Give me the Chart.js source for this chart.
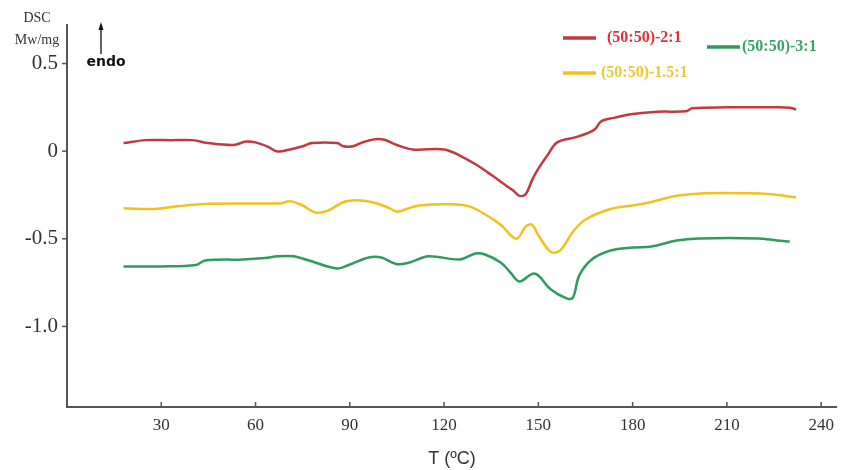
<!DOCTYPE html>
<html>
<head>
<meta charset="utf-8">
<script src="https://cdn.jsdelivr.net/npm/chart.js@4/dist/chart.umd.min.js"></script>
<style>
  html, body { margin: 0; padding: 0; background: #fff; }
  #wrap { width: 842px; height: 470px; position: relative; }
</style>
</head>
<body>
<div id="wrap"><canvas id="myChart" width="842" height="470"></canvas></div>
<script>
// temperatures (ºC) and DSC signal (Mw/mg)
var tempRed = [18, 25, 33, 40, 45, 53, 57, 60, 64, 67, 71, 75, 78, 86, 88, 91, 94, 98, 101, 105, 110, 120, 125, 130, 135, 140, 142, 144, 146, 148, 150, 153, 156, 162, 166, 168, 170, 174, 180, 188, 197, 199, 210, 225, 230, 232];
var dscRed = [0.046, 0.063, 0.063, 0.063, 0.046, 0.035, 0.055, 0.05, 0.025, -0.002, 0.01, 0.028, 0.046, 0.046, 0.028, 0.028, 0.05, 0.068, 0.065, 0.035, 0.01, 0.01, -0.025, -0.075, -0.135, -0.2, -0.225, -0.255, -0.245, -0.165, -0.1, -0.02, 0.05, 0.08, 0.105, 0.125, 0.17, 0.19, 0.212, 0.225, 0.228, 0.245, 0.25, 0.25, 0.248, 0.238];

var tempYellow = [18, 28, 35, 45, 56, 68, 71, 75, 79, 83, 88, 92, 97, 102, 105, 108, 112, 122, 128, 133, 138, 143, 146, 148, 150, 154, 157, 161, 165, 173, 180, 186, 194, 203, 217, 224, 232];
var dscYellow = [-0.326, -0.33, -0.315, -0.3, -0.298, -0.298, -0.286, -0.31, -0.35, -0.34, -0.29, -0.28, -0.29, -0.32, -0.345, -0.33, -0.31, -0.303, -0.315, -0.36, -0.42, -0.5, -0.43, -0.42, -0.48, -0.575, -0.565, -0.46, -0.39, -0.33, -0.31, -0.29, -0.255, -0.24, -0.24, -0.246, -0.263];

var tempGreen = [18, 30, 41, 44, 56, 63, 67, 72, 77, 86, 90, 96, 100, 105, 109, 115, 125, 130, 133, 138, 141, 144, 148, 150, 154, 159, 161, 163, 167, 173, 180, 186, 194, 201, 220, 226, 230];
var dscGreen = [-0.658, -0.658, -0.65, -0.624, -0.618, -0.61, -0.6, -0.6, -0.624, -0.67, -0.647, -0.607, -0.607, -0.645, -0.635, -0.6, -0.618, -0.584, -0.59, -0.635, -0.69, -0.744, -0.7, -0.71, -0.79, -0.84, -0.836, -0.71, -0.618, -0.567, -0.55, -0.544, -0.51, -0.498, -0.498, -0.51, -0.515];

var xTicks = [30, 60, 90, 120, 150, 180, 210, 240];
var yTicks = [0.5, 0, -0.5, -1.0];
var seriesNames = ["(50:50)-2:1", "(50:50)-1.5:1", "(50:50)-3:1"];
var lineColors = ["#c23a40", "#f0c21c", "#2e9c5c"];
var textColors = ["#dc3038", "#ecc836", "#3aa468"];

function pairs(xs, ys) {
    return xs.map(function (x, i) { return {x: x, y: ys[i]}; });
}

var extras = {
    id: "extras",
    afterDraw: function (chart) {
        var ctx = chart.ctx;
        var xs = chart.scales.x, ys = chart.scales.y;
        var area = chart.chartArea;
        ctx.save();
        // tick marks
        ctx.strokeStyle = "#555";
        ctx.lineWidth = 1.5;
        xTicks.forEach(function (v) {
            var px = xs.getPixelForValue(v);
            ctx.beginPath();
            ctx.moveTo(px, area.bottom);
            ctx.lineTo(px, area.bottom - 5);
            ctx.stroke();
        });
        yTicks.forEach(function (v) {
            var py = ys.getPixelForValue(v);
            ctx.beginPath();
            ctx.moveTo(area.left, py);
            ctx.lineTo(area.left - 5, py);
            ctx.stroke();
        });
        // axis unit
        ctx.fillStyle = "#333";
        ctx.textAlign = "center";
        ctx.textBaseline = "middle";
        ctx.font = "14px 'Liberation Serif'";
        ctx.fillText("DSC", 37, 18);
        ctx.fillText("Mw/mg", 37, 40);
        // endo arrow
        ctx.strokeStyle = "#111";
        ctx.fillStyle = "#111";
        ctx.lineWidth = 1.3;
        ctx.beginPath();
        ctx.moveTo(101, 54);
        ctx.lineTo(101, 28);
        ctx.stroke();
        ctx.beginPath();
        ctx.moveTo(101, 22);
        ctx.lineTo(98.5, 30);
        ctx.lineTo(103.5, 30);
        ctx.closePath();
        ctx.fill();
        ctx.font = "bold 14px 'DejaVu Sans'";
        ctx.fillText("endo", 106, 62);
        // legend
        var items = [
            {lx: 563, ly: 38, tx: 607},
            {lx: 563, ly: 73, tx: 601},
            {lx: 707, ly: 47, tx: 742}
        ];
        ctx.textAlign = "left";
        ctx.font = "bold 16px 'Liberation Serif'";
        items.forEach(function (it, i) {
            ctx.strokeStyle = lineColors[i];
            ctx.lineWidth = 3.5;
            ctx.beginPath();
            ctx.moveTo(it.lx, it.ly);
            ctx.lineTo(it.lx + 33, it.ly);
            ctx.stroke();
            ctx.fillStyle = textColors[i];
            ctx.fillText(seriesNames[i], it.tx, it.ly);
        });
        ctx.restore();
    }
};

var lineStyle = {borderWidth: 2.5, pointRadius: 0, tension: 0.35, fill: false};

new Chart("myChart", {
    type: "line",
    data: {
        datasets: [
            Object.assign({label: seriesNames[0], data: pairs(tempRed, dscRed), borderColor: lineColors[0]}, lineStyle),
            Object.assign({label: seriesNames[1], data: pairs(tempYellow, dscYellow), borderColor: lineColors[1]}, lineStyle),
            Object.assign({label: seriesNames[2], data: pairs(tempGreen, dscGreen), borderColor: lineColors[2]}, lineStyle)
        ]
    },
    options: {
        responsive: false,
        animation: false,
        layout: {padding: {left: 0, right: 4, top: 25, bottom: 0}},
        plugins: {legend: {display: false}, tooltip: {enabled: false}},
        scales: {
            x: {
                type: "linear",
                min: 0,
                max: 245,
                afterBuildTicks: function (axis) {
                    axis.ticks = xTicks.map(function (v) { return {value: v}; });
                },
                afterFit: function (axis) { axis.height = 63; },
                grid: {display: false, drawTicks: false},
                border: {display: true, color: "#555", width: 2},
                ticks: {
                    padding: 8,
                    color: "#333",
                    font: {family: "'Liberation Serif'", size: 17}
                },
                title: {
                    display: true,
                    text: "T (ºC)",
                    color: "#333",
                    font: {family: "'Liberation Sans'", size: 18},
                    padding: {top: 0, bottom: 0}
                }
            },
            y: {
                min: -1.46,
                max: 0.72,
                afterBuildTicks: function (axis) {
                    axis.ticks = yTicks.map(function (v) { return {value: v}; });
                },
                afterFit: function (axis) { axis.width = 67; },
                grid: {display: false, drawTicks: false},
                border: {display: true, color: "#555", width: 2},
                ticks: {
                    padding: 9,
                    color: "#333",
                    font: {family: "'Liberation Serif'", size: 21},
                    callback: function (v) {
                        return v === 0 ? "0" : v.toFixed(1);
                    }
                }
            }
        }
    },
    plugins: [extras]
});
</script>
</body>
</html>
